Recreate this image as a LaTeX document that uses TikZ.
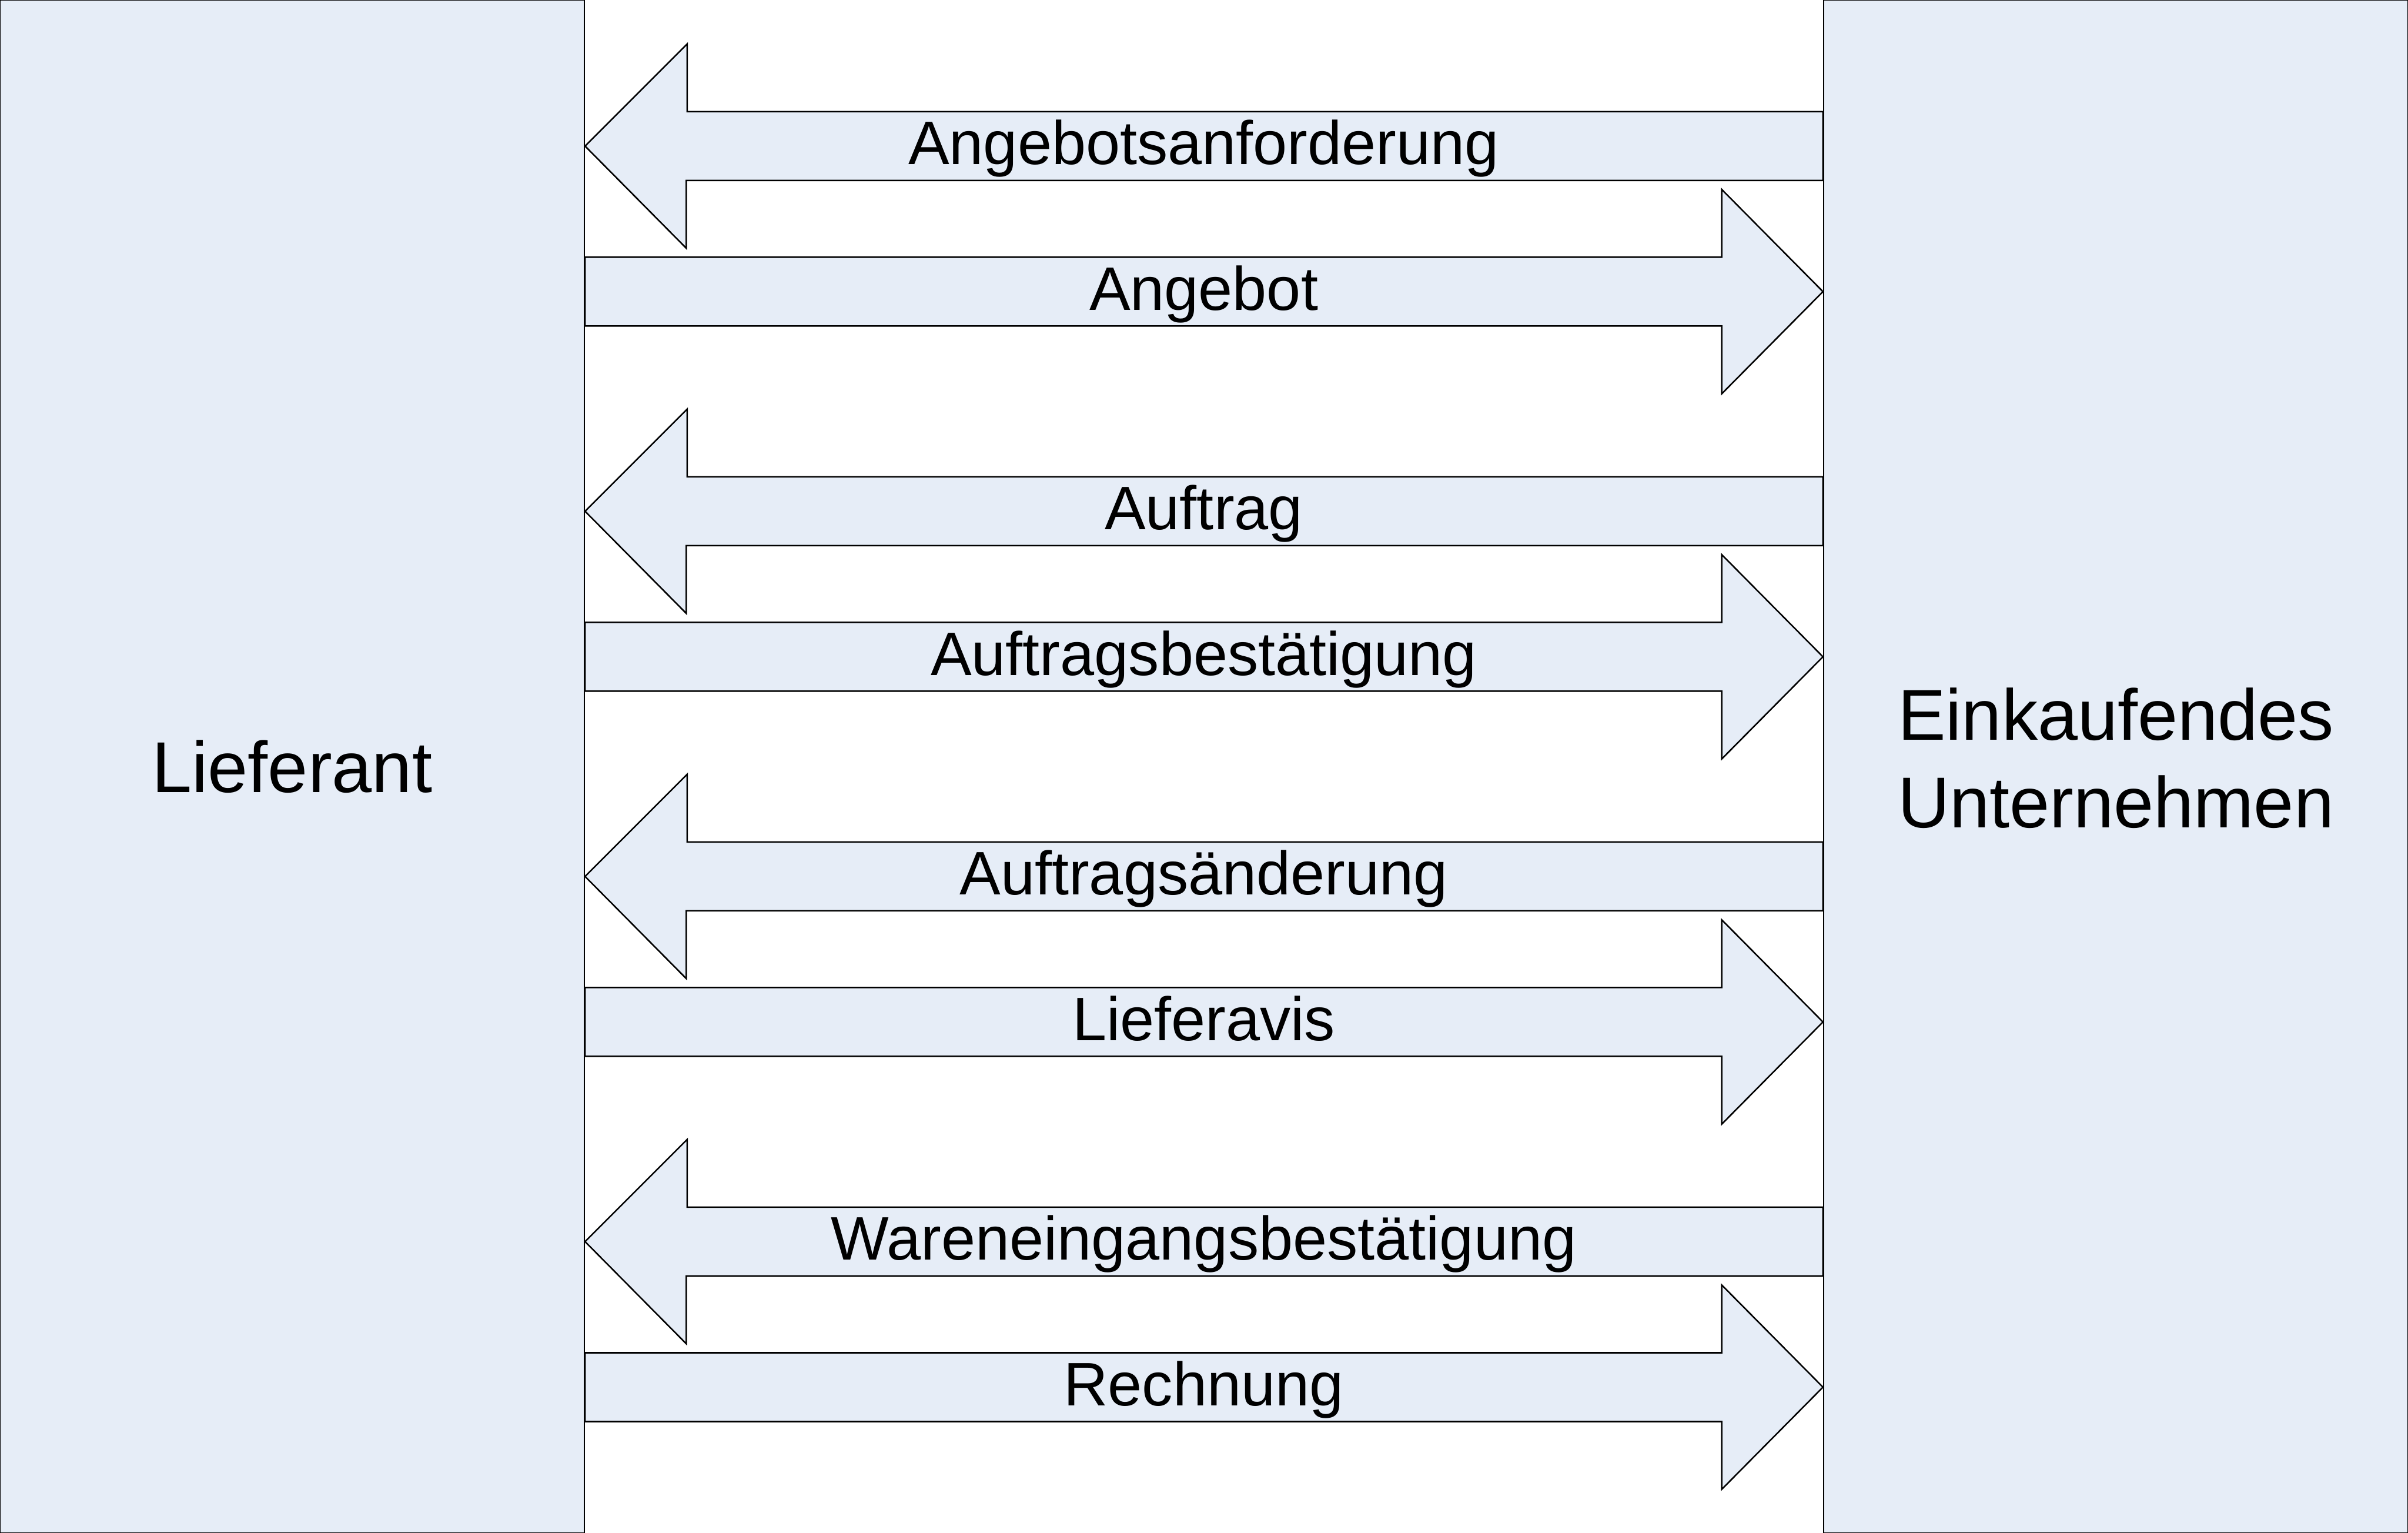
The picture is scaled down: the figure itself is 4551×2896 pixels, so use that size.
\documentclass[tikz,border=0pt]{standalone}
\usepackage{fontspec}
\setmainfont{Liberation Sans}
\definecolor{boxfill}{RGB}{230,237,247}
\begin{document}
\begin{tikzpicture}[x=0.01cm,y=-0.01cm,
  panel/.style={draw=black,line width=0.8pt,fill=boxfill,inner sep=0pt,
    minimum width=11.04cm,minimum height=28.96cm,align=center,
    font=\fontsize{38.7}{46.9}\selectfont},
  blockarrow/.style={draw=black,line width=0.8pt,fill=boxfill,line join=miter},
  lbl/.style={inner sep=0pt,anchor=base,font=\fontsize{33}{40}\selectfont}]
\useasboundingbox (0,0) rectangle (4551,2896);
\node[panel] (lief) at (552,1448) {Lieferant};
\node[panel] (eink) at (3999,1448) {\raisebox{0.22cm}{\begin{tabular}{@{}c@{}}Einkaufendes\\Unternehmen\end{tabular}}};
% arrows towards the supplier
\foreach \yc/\lab [count=\i] in {276/Angebotsanforderung,966/Auftrag,1656/Auftragsänderung,2346/Wareneingangsbestätigung}{
  \pgfmathsetmacro{\ya}{\yc-65}
  \pgfmathsetmacro{\yb}{\yc+65}
  \pgfmathsetmacro{\yt}{\yc+35}
  \draw[blockarrow] (lief.east |- 0,\yc) -- ++(193,-193) -- ++(0,128)
    -- (eink.west |- 0,\ya) -- (eink.west |- 0,\yb) -- (1297,\yb) -- ++(0,128) -- cycle;
  \node[lbl] (l\i) at (2275,\yt) {\lab};
}
% arrows towards the buying company
\foreach \yc/\lab [count=\i] in {551/Angebot,1241/Auftragsbestätigung,1931/Lieferavis,2621/Rechnung}{
  \pgfmathsetmacro{\ya}{\yc-65}
  \pgfmathsetmacro{\yb}{\yc+65}
  \pgfmathsetmacro{\yt}{\yc+35}
  \draw[blockarrow] (lief.east |- 0,\ya) -- (3254,\ya) -- ++(0,-128)
    -- (eink.west |- 0,\yc) -- (3254,\yc+193) -- (3254,\yb) -- (lief.east |- 0,\yb) -- cycle;
  \node[lbl] (r\i) at (2275,\yt) {\lab};
}
\end{tikzpicture}
\end{document}
